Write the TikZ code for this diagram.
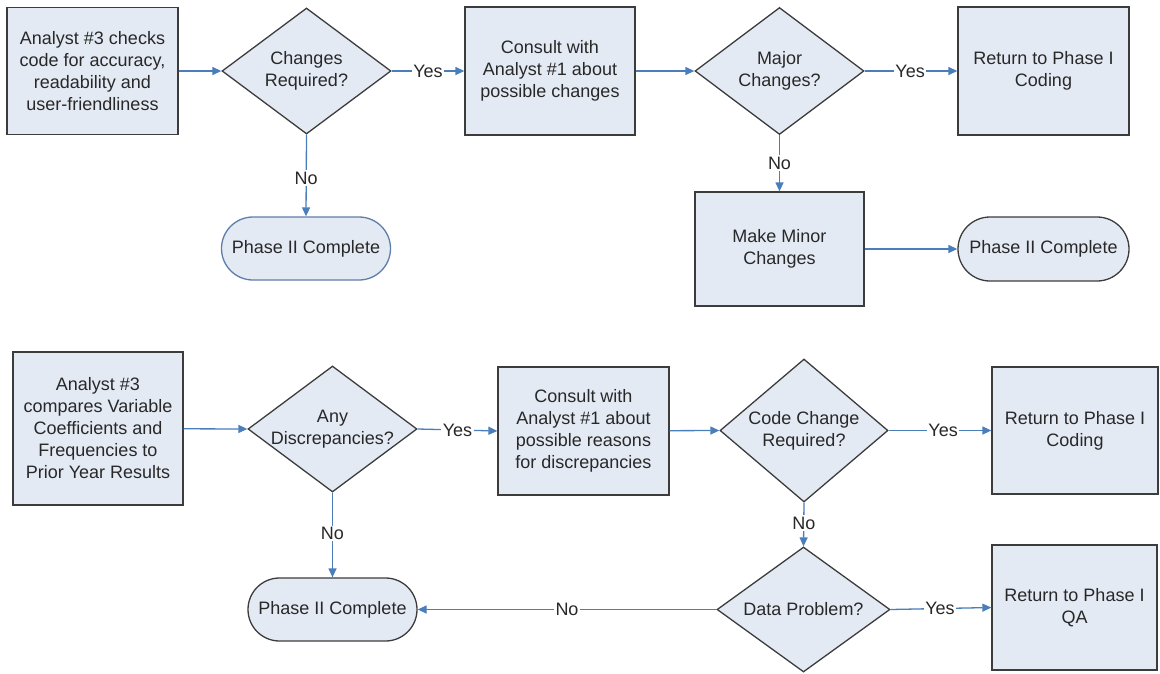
\documentclass[tikz,border=0pt]{standalone}
\usepackage{fontspec}
\setmainfont{Liberation Sans}
\usetikzlibrary{shapes.geometric,arrows.meta}
\definecolor{boxfill}{RGB}{228,234,244}
\definecolor{boxline}{RGB}{60,60,60}
\definecolor{arrowc}{RGB}{74,126,187}
\definecolor{txt}{RGB}{40,40,40}
\definecolor{termline}{RGB}{95,125,170}
\begin{document}
\begin{tikzpicture}[x=1pt,y=-1pt,
  every node/.style={font=\fontsize{18}{22}\selectfont, text=txt},
  procbox/.style 2 args={draw=boxline, line width=1.3pt, fill=boxfill, rectangle, align=center, inner sep=0pt, minimum width=#1, minimum height=#2},
  decision/.style 2 args={draw=boxline, line width=1.3pt, fill=boxfill, diamond, inner sep=0pt, minimum width=#1, minimum height=#2},
  terminal/.style 2 args={draw=boxline, line width=1.3pt, fill=boxfill, rectangle, rounded corners=#2/2, align=center, inner sep=0pt, minimum width=#1, minimum height=#2},
  flow/.style={draw=arrowc, line width=1.3pt, -{Triangle[length=9pt,width=8pt]}},
  elabel/.style={fill=white, inner sep=1.5pt}
]
\path[use as bounding box] (0,0) rectangle (1160,673);

% top row
\node[procbox={171}{127}] (a1) at (92.5,71) {Analyst \#3 checks\\code for accuracy,\\readability and\\user-friendliness};
\node[decision={169}{126}, label={[align=center]center:Changes\\Required?}] (d1) at (306.5,71) {};
\node[procbox={170}{128}] (b1) at (550,71) {Consult with\\Analyst \#1 about\\possible changes};
\node[decision={169}{127}, label={[align=center]center:Major\\Changes?}] (d2) at (779.5,71) {};
\node[procbox={171}{128}] (c1) at (1043.5,71) {Return to Phase I\\Coding};
\node[terminal={169}{63}, draw=termline] (t1) at (306,248.5) {Phase II Complete};
\node[procbox={169}{114}] (m1) at (779.5,249) {Make Minor\\Changes};
\node[terminal={171}{64}] (t2) at (1043.5,249) {Phase II Complete};

% bottom row
\node[procbox={170}{153}] (a2) at (98,428.5) {Analyst \#3\\compares Variable\\Coefficients and\\Frequencies to\\Prior Year Results};
\node[decision={169}{126}, label={[align=center]center:Any\\Discrepancies?}] (d3) at (332.5,429) {};
\node[procbox={171}{128}] (b2) at (583.5,431) {Consult with\\Analyst \#1 about\\possible reasons\\for discrepancies};
\node[decision={168}{143}, label={[align=center]center:Code Change\\Required?}] (d4) at (804,430.5) {};
\node[procbox={166}{127}] (c2) at (1075,430.5) {Return to Phase I\\Coding};
\node[terminal={169}{63}] (t3) at (332.5,609.5) {Phase II Complete};
\node[decision={173}{125}, label={center:Data Problem?}] (d5) at (803.5,609.5) {};
\node[procbox={165}{125}] (c3) at (1074.5,607.5) {Return to Phase I\\QA};

% connectors top
\draw[flow] (a1) -- (d1);
\draw[flow] (d1.east) -- node[elabel, pos=0.5] {Yes} (b1.west);
\draw[flow] (b1) -- (d2.west);
\draw[flow] (d2.east) -- node[elabel, pos=0.49] {Yes} (c1.west);
\draw[flow] (d1.south) -- node[elabel, pos=0.53] {No} (t1.north);
\draw[flow] (d2.south) -- node[elabel, pos=0.5] {No} (m1.north);
\draw[flow] (m1) -- (t2);

% connectors bottom
\draw[flow] (a2) -- (d3.west);
\draw[flow] (d3.east) -- node[elabel, pos=0.5] {Yes} (b2.west);
\draw[flow] (b2) -- (d4.west);
\draw[flow] (d4.east) -- node[elabel, pos=0.53] {Yes} (c2.west);
\draw[flow] (d3.south) -- node[elabel, pos=0.48] {No} (t3.north);
\draw[flow] (d4.south) -- node[elabel, pos=0.47] {No} (d5.north);
\draw[flow] (d5.east) -- node[elabel, pos=0.49] {Yes} (c3.west);
\draw[flow] (d5.west) -- node[elabel, pos=0.5] {No} (t3.east);
\end{tikzpicture}
\end{document}
